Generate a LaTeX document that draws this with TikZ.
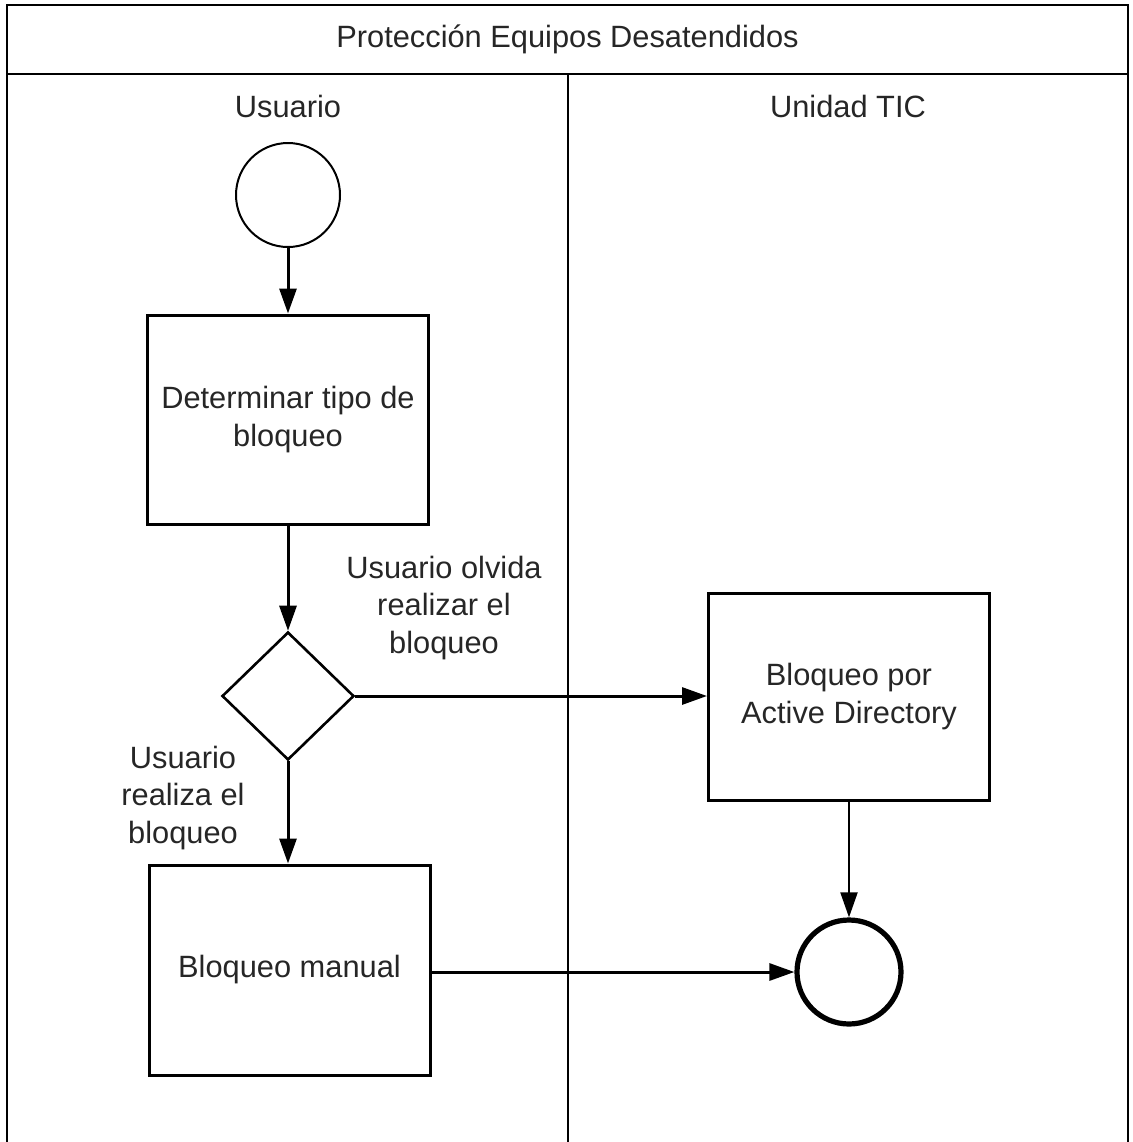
\documentclass[tikz,border=0pt]{standalone}
\usepackage{fontspec}
\setmainfont{Liberation Sans}
\usetikzlibrary{arrows.meta,shapes.geometric}

\begin{document}
\begin{tikzpicture}[
  x=0.5pt, y=-0.5pt,
  every node/.style={font=\fontsize{15.4}{18.8}\selectfont, text=black!85},
  frameline/.style={line width=1.4pt, black},
  laneline/.style={line width=1pt, black},
  taskbox/.style={draw, rectangle, line width=1.5pt, minimum width=140.5pt,
                  minimum height=104.5pt, align=center, inner sep=0pt},
  startev/.style={draw, circle, line width=1pt, minimum size=52pt, inner sep=0pt},
  endev/.style={draw, circle, line width=2.6pt, minimum size=52pt, inner sep=0pt},
  gateway/.style={draw, diamond, line width=1.3pt, minimum width=66pt,
                  minimum height=64pt, inner sep=0pt},
  flow/.style={line width=1.5pt, -{Triangle[length=12.5pt,width=8.5pt]}},
  thinflow/.style={line width=1pt, -{Triangle[length=12.5pt,width=8.5pt]}},
  flowlabel/.style={align=center}
]
\useasboundingbox (0,0) rectangle (1132,1142);

% pool frame, title band and lane separator
\draw[frameline] (7,1142) -- (7,5) -- (1128,5) -- (1128,1142);
\draw[frameline] (7,74) -- (1128,74);
\draw[laneline] (568,74) -- (568,1142);

\node (pool) at (567.5,39) {Protección Equipos Desatendidos};
\node (laneU) at (288,106) {Usuario};
\node (laneT) at (848,106) {Unidad TIC};

% flow elements
\node[startev] (start) at (288,195) {};
\node[taskbox] (det) at (288,419.5) {Determinar tipo de\\bloqueo};
\node[gateway] (gw) at (288,696) {};
\node[taskbox, minimum height=103.5pt] (ad) at (849,696.5) {Bloqueo por\\Active Directory};
\node[taskbox, minimum height=105pt] (man) at (289.5,970) {Bloqueo manual};
\node[endev] (end) at (849,972) {};

% sequence flows
\draw[flow] (start) -- (det);
\draw[flow] (det) -- (gw);
\draw[flow] (gw.east) -- (gw.east -| ad.west);
\draw[flow] (gw.south) -- (man.north -| gw.south);
\draw[flow] (man.east |- end) -- (end.west);
\draw[thinflow] (ad.south) -- (end.north);

% flow labels
\node[flowlabel] (lblForgot) at (444,608) {Usuario olvida\\realizar el\\bloqueo};
\node[flowlabel] (lblDone) at (183,798) {Usuario\\realiza el\\bloqueo};
\end{tikzpicture}
\end{document}
